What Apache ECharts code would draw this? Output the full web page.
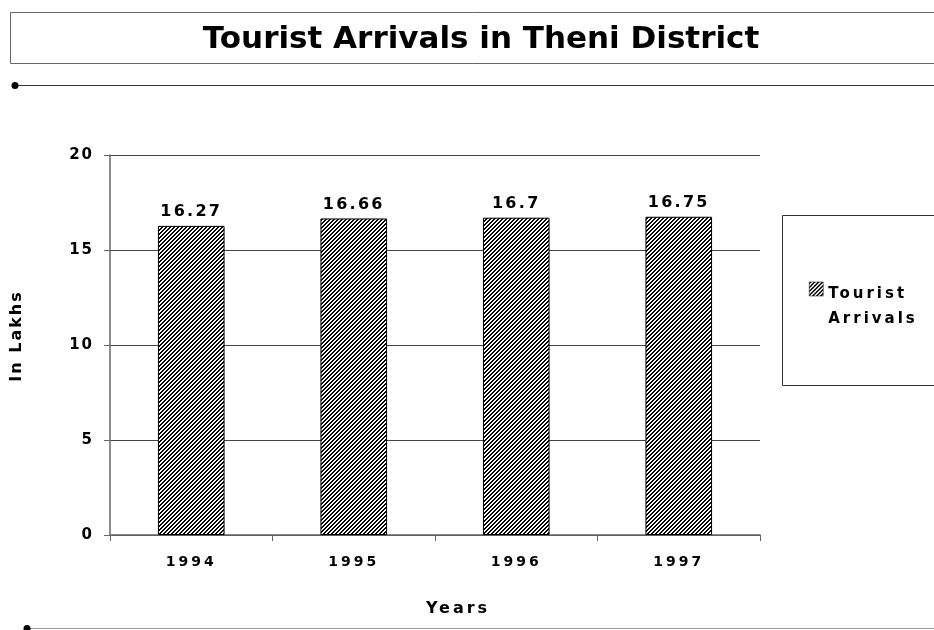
<!DOCTYPE html>
<html><head><meta charset="utf-8">
<script src="https://cdn.jsdelivr.net/npm/echarts@6/dist/echarts.min.js"></script>
<style>html,body{margin:0;padding:0;background:#fff}#c{width:934px;height:630px}</style>
</head><body><div id="c"></div>
<script>
const years = ['1994', '1995', '1996', '1997'];
const arrivals = [16.27, 16.66, 16.7, 16.75];
const seriesName = 'Tourist Arrivals';
const yTicks = { min: 0, max: 20, step: 5 };

function hatch() {
  const c = document.createElement('canvas');
  c.width = 4; c.height = 4;
  const g = c.getContext('2d');
  const img = g.createImageData(4, 4);
  for (let y = 0; y < 4; y++) for (let x = 0; x < 4; x++) {
    const i = (y * 4 + x) * 4;
    const v = ((x + y) % 4) < 2 ? 0 : 255;
    img.data[i] = v; img.data[i + 1] = v; img.data[i + 2] = v; img.data[i + 3] = 255;
  }
  g.putImageData(img, 0, 0);
  return c;
}
const pat = { image: hatch(), repeat: 'repeat' };
const F = '"DejaVu Sans", Verdana, sans-serif';

const chart = echarts.init(document.getElementById('c'));
chart.setOption({
  animation: false,
  textStyle: { fontFamily: F },
  grid: { left: 110, right: 174, top: 155, bottom: 95, containLabel: false },
  xAxis: {
    type: 'category', data: years, zlevel: 1,
    name: 'Years', nameLocation: 'middle', nameGap: 66,
    nameTextStyle: { fontWeight: 'bold', fontSize: 16, color: '#000', padding: [0, 0, 0, 46] },
    axisLine: { lineStyle: { color: '#666', width: 1.5 } },
    axisTick: { show: true, length: 6, lineStyle: { color: '#666' } },
    axisLabel: { fontWeight: 'bold', fontSize: 14, color: '#000', margin: 20 }
  },
  yAxis: {
    type: 'value', min: yTicks.min, max: yTicks.max, interval: yTicks.step, zlevel: 0,
    name: 'In Lakhs', nameLocation: 'middle', nameGap: 85, nameRotate: 90,
    nameTextStyle: { fontWeight: 'bold', fontSize: 16, color: '#000', padding: [0, 0, 0, 18] },
    axisLine: { show: true, lineStyle: { color: '#666', width: 1.5 } },
    axisTick: { show: true, length: 6, lineStyle: { color: '#666' } },
    axisLabel: { fontWeight: 'bold', fontSize: 15, color: '#000', margin: 16 },
    splitLine: { lineStyle: { color: '#444', width: 1 } }
  },
  legend: {
    left: 809, top: 246.5, orient: 'vertical', padding: 0, zlevel: 3,
    itemWidth: 14, itemHeight: 14, itemGap: 4,
    textStyle: {
      fontWeight: 'bold', fontSize: 15, color: '#000', lineHeight: 25,
      rich: { s: { lineHeight: 35, fontSize: 15 }, t: { fontWeight: 'bold', fontSize: 15, color: '#000', lineHeight: 25 } }
    },
    formatter: () => '{s| }\n{t|Tourist}\n{t|Arrivals}',
    data: [{ name: seriesName, icon: 'rect', itemStyle: { color: pat, borderColor: '#000', borderWidth: 0.5 } }]
  },
  series: [{
    name: seriesName, type: 'bar', data: arrivals, zlevel: 2,
    barCategoryGap: '59%',
    itemStyle: { color: pat, borderColor: '#000', borderWidth: 1 },
    label: { show: true, position: 'top', distance: 6, fontWeight: 'bold', fontSize: 16, color: '#000' }
  }],
  graphic: [
    { type: 'rect', zlevel: 4, shape: { x: 10.5, y: 12.5, width: 940, height: 51 }, style: { fill: 'none', stroke: '#666', lineWidth: 1 } },
    { type: 'text', zlevel: 4, x: 481, y: 40, style: { text: 'Tourist Arrivals in Theni District', font: 'bold 31px ' + F, fill: '#000', align: 'center', verticalAlign: 'middle' } },
    { type: 'line', zlevel: 4, shape: { x1: 15, y1: 85.5, x2: 934, y2: 85.5 }, style: { stroke: '#333', lineWidth: 1.2 } },
    { type: 'circle', zlevel: 4, shape: { cx: 15, cy: 85.5, r: 3.5 }, style: { fill: '#000' } },
    { type: 'line', zlevel: 4, shape: { x1: 27, y1: 628.5, x2: 934, y2: 628.5 }, style: { stroke: '#999', lineWidth: 1.2 } },
    { type: 'circle', zlevel: 4, shape: { cx: 27, cy: 628.5, r: 3.5 }, style: { fill: '#000' } },
    { type: 'rect', zlevel: 4, shape: { x: 782.5, y: 215.5, width: 160, height: 170 }, style: { fill: 'none', stroke: '#333', lineWidth: 1 } }
  ]
});

// the reference's labels are widely tracked: apply letter spacing per canvas layer
try {
  const zr = chart.getZr();
  const spacing = { 0: '2px', 1: '3px', 2: '2.3px', 3: '3px', 4: '0px' };
  Object.keys(spacing).forEach(z => {
    const layer = zr.painter.getLayer(+z);
    if (layer && layer.ctx) layer.ctx.letterSpacing = spacing[z];
  });
  zr.painter.refresh(true);
} catch (e) {}
</script></body></html>
